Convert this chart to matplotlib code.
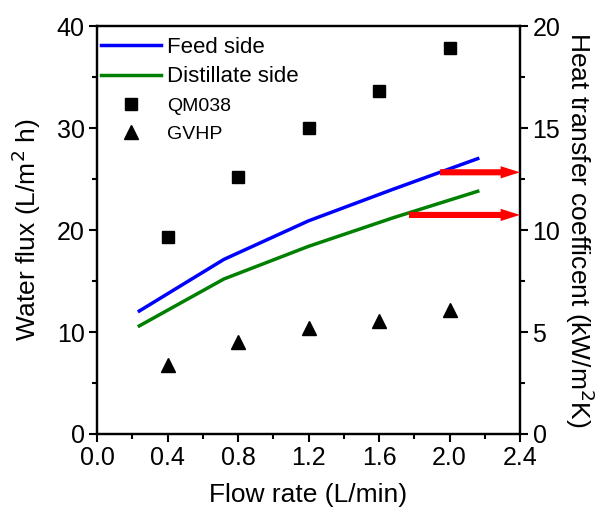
import matplotlib
matplotlib.use("Agg")
import matplotlib.pyplot as plt
from matplotlib.ticker import MultipleLocator

plt.rcParams['font.family'] = ['Liberation Sans', 'DejaVu Sans']

# Data
flow_pts = [0.4, 0.8, 1.2, 1.6, 2.0]
flux_qm038 = [19.3, 25.2, 30.0, 33.6, 37.8]
flux_gvhp = [6.8, 9.0, 10.4, 11.1, 12.2]

flow_line = [0.24, 0.72, 1.2, 1.68, 2.16]
h_feed = [6.03, 8.56, 10.45, 12.0, 13.5]
h_dist = [5.3, 7.6, 9.2, 10.6, 11.9]

arrow_start_x = [1.946, 1.77]
arrow_y = [12.83, 10.74]

fig = plt.figure(figsize=(6.0, 5.11), dpi=100)
ax = fig.add_axes([0.1617, 0.1507, 0.705, 0.7983])
ax2 = ax.twinx()

sq, = ax.plot(flow_pts, flux_qm038, 's', color='black', markersize=8, linestyle='none', label='QM038')
tr, = ax.plot(flow_pts, flux_gvhp, '^', color='black', markersize=10, linestyle='none', label='GVHP')

l1, = ax2.plot(flow_line, h_feed, '-', color='#0000ff', lw=2.5, label='Feed side')
l2, = ax2.plot(flow_line, h_dist, '-', color='#008000', lw=2.5, label='Distillate side')

for xs, ya in zip(arrow_start_x, arrow_y):
    ax2.arrow(xs, ya, 2.4 - xs, 0, width=0.3, head_width=0.6, head_length=0.11,
              length_includes_head=True, color='red', ec='none', zorder=5, clip_on=False)

ax.set_xlim(0, 2.4)
ax.set_ylim(0, 40)
ax2.set_ylim(0, 20)

ax.xaxis.set_major_locator(MultipleLocator(0.4))
ax.xaxis.set_minor_locator(MultipleLocator(0.2))
ax.yaxis.set_major_locator(MultipleLocator(10))
ax.yaxis.set_minor_locator(MultipleLocator(5))
ax2.yaxis.set_major_locator(MultipleLocator(5))
ax2.yaxis.set_minor_locator(MultipleLocator(2.5))
ax.xaxis.set_major_formatter(matplotlib.ticker.FormatStrFormatter('%.1f'))

TICK_FS = 18
LABEL_FS = 19
for a in (ax, ax2):
    for s in a.spines.values():
        s.set_linewidth(1.6)
ax.tick_params(axis='both', which='major', direction='out', length=6, width=1.5,
               labelsize=TICK_FS, pad=3)
ax.tick_params(axis='both', which='minor', direction='out', length=3.5, width=1.5)
ax.tick_params(axis='x', top=False, which='both')
ax2.tick_params(axis='y', which='major', direction='out', length=6, width=1.5,
                labelsize=TICK_FS, pad=3)
ax2.tick_params(axis='y', which='minor', direction='out', length=3.5, width=1.5)

ax.set_xlabel('Flow rate (L/min)', fontsize=LABEL_FS, labelpad=9)
ax.set_ylabel('Water flux (L/m$^2$ h)', fontsize=LABEL_FS, labelpad=10)
ax2.set_ylabel('Heat transfer coefficent (kW/m$^2$K)', fontsize=LABEL_FS, rotation=270, labelpad=26)

leg = ax2.legend([l1, l2, sq, tr], ['Feed side', 'Distillate side', 'QM038', 'GVHP'],
                 loc='upper left', frameon=False, fontsize=16, handlelength=2.7,
                 handletextpad=0.3, borderaxespad=0.0, labelspacing=0.38,
                 bbox_to_anchor=(-0.012, 0.995))
texts = leg.get_texts()
texts[2].set_fontsize(14)
texts[3].set_fontsize(14)

fig.savefig('out.png', dpi=100)
